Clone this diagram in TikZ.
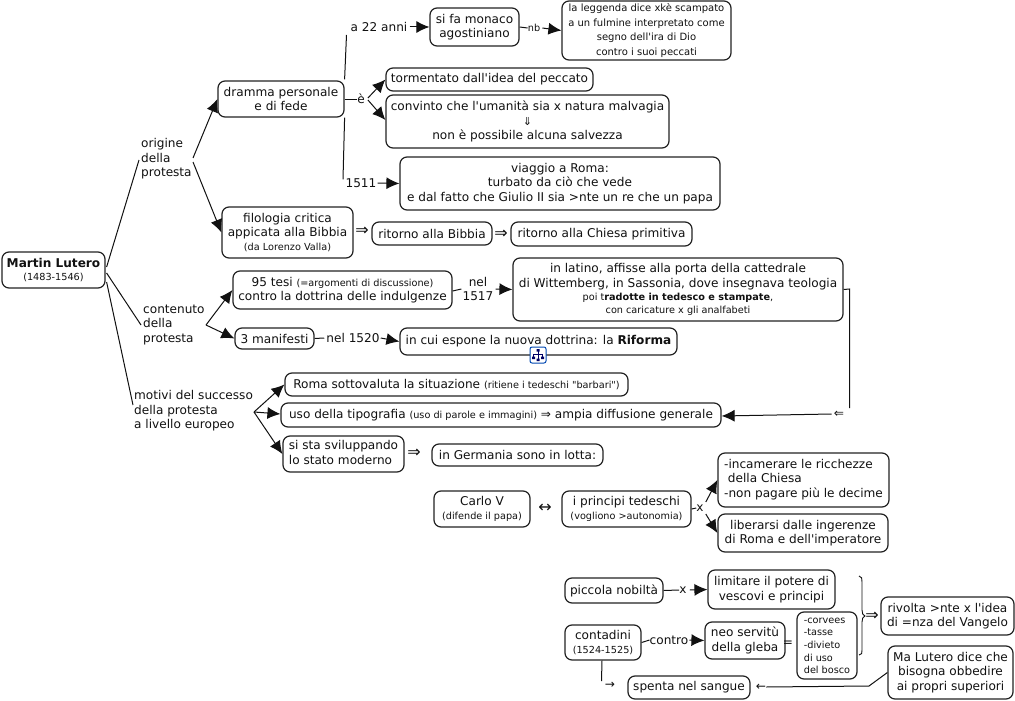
\documentclass[tikz,border=0pt]{standalone}
\usepackage{fontspec}
\newfontfamily\plainf{DejaVu Sans}
\usetikzlibrary{arrows.meta}
\definecolor{ink}{HTML}{111111}
\definecolor{edge}{HTML}{222222}
\newcommand{\mf}{\plainf\fontsize{12.1}{14.6}\selectfont}
\newcommand{\sm}{\plainf\fontsize{9.7}{14}\selectfont}
\newcommand{\ms}{\plainf\fontsize{10}{13.6}\selectfont}
\newcommand{\bigar}{\plainf\fontsize{16}{16}\selectfont}
\tikzset{
  x=1pt,y=-1pt,
  bx/.style={draw=edge,line width=1.2pt,rounded corners=7pt,fill=white,align=center,inner sep=0pt,text=ink,font=\mf},
  lbl/.style={inner sep=0pt,align=center,text=ink,font=\mf},
  lleft/.style={inner sep=0pt,align=left,text=ink,font=\mf},
  lnk/.style={draw=ink,line width=1pt},
  arr/.style={draw=ink,line width=1pt,-{Latex[length=13pt,width=12pt]}},
}
% name, x1, y1, x2, y2, text
\newcommand{\bxx}[6]{%
  \pgfmathsetmacro{\cxx}{(#2+#4)/2}\pgfmathsetmacro{\cyy}{(#3+#5)/2}%
  \pgfmathsetmacro{\wxx}{#4-#2}\pgfmathsetmacro{\hyy}{#5-#3}%
  \node[bx,minimum width=\wxx pt,minimum height=\hyy pt] (#1) at (\cxx,\cyy) {#6};}
\begin{document}
\begin{tikzpicture}
\useasboundingbox[fill=white] (0,0) rectangle (1015,701);
% boxes
\bxx{root}{2}{252}{105}{288}{\textbf{Martin Lutero}\\[-1pt]{\sm (1483-1546)}}
\bxx{dramma}{218}{81}{344}{117}{dramma personale\\e di fede}
\bxx{monaco}{430}{8}{519}{46}{si fa monaco\\agostiniano}
\bxx{leggenda}{562}{1}{731}{60}{\ms la leggenda dice xkè scampato\\\ms a un fulmine interpretato come\\\ms segno dell'ira di Dio\\\ms contro i suoi peccati}
\bxx{torm}{386}{68}{593}{91}{tormentato dall'idea del peccato}
\bxx{convinto}{386}{95}{669}{148}{convinto che l'umanità sia x natura malvagia\\{\plainf\fontsize{11}{14.6}\selectfont ⇓}\\non è possibile alcuna salvezza}
\bxx{viaggio}{400}{157}{720}{210}{viaggio a Roma:\\turbato da ciò che vede\\e dal fatto che Giulio II sia >nte un re che un papa}
\bxx{filologia}{222}{207}{353}{258}{filologia critica\\appicata alla Bibbia\\[-1pt]{\sm (da Lorenzo Valla)}}
\bxx{ritbib}{372}{222}{492}{245}{ritorno alla Bibbia}
\bxx{ritchi}{511}{222}{692}{246}{ritorno alla Chiesa primitiva}
\bxx{tesi}{233}{271}{452}{309}{95 tesi {\sm (=argomenti di discussione)}\\contro la dottrina delle indulgenze}
\bxx{latino}{513}{258}{843}{321}{in latino, affisse alla porta della cattedrale\\di Wittemberg, in Sassonia, dove insegnava teologia\\[-1pt]{\sm poi t\textbf{radotte in tedesco e stampate},}\\[-1.5pt]{\sm con caricature x gli analfabeti}}
\bxx{manif}{235}{328}{314}{349}{3 manifesti}
\bxx{espone}{400}{328}{677}{355}{in cui espone la nuova dottrina: la \textbf{Riforma}}
\bxx{roma}{285}{373}{628}{396}{Roma sottovaluta la situazione {\sm (ritiene i tedeschi "barbari")}}
\bxx{tipo}{281}{403}{721}{427}{uso della tipografia {\sm (uso di parole e immagini)} ⇒ ampia diffusione generale}
\bxx{stato}{283}{436}{404}{472}{\begin{tabular}{@{}l@{}}si sta sviluppando\\lo stato moderno\end{tabular}}
\bxx{germania}{432}{444}{603}{466}{in Germania sono in lotta:}
\bxx{carlo}{434}{491}{530}{527}{Carlo V\\[-1pt]{\sm (difende il papa)}}
\bxx{principi}{562}{491}{691}{527}{i principi tedeschi\\[-1pt]{\sm (vogliono >autonomia)}}
\bxx{incam}{718}{453}{889}{507}{\begin{tabular}{@{}l@{}}-incamerare le ricchezze\\\ della Chiesa\\-non pagare più le decime\end{tabular}}
\bxx{liberarsi}{718}{514}{888}{552}{liberarsi dalle ingerenze\\di Roma e dell'imperatore}
\bxx{nobil}{565}{578}{663}{603}{piccola nobiltà}
\bxx{limitare}{708}{570}{835}{609}{limitare il potere di\\vescovi e principi}
\bxx{contad}{565}{625}{641}{660}{contadini\\[-1pt]{\sm (1524-1525)}}
\bxx{neo}{705}{622}{785}{659}{neo servitù\\della gleba}
\bxx{corvees}{797}{612}{857}{679}{\begin{tabular}{@{}l@{}}\sm -corvees\\[-2pt]\sm -tasse\\[-2pt]\sm -divieto\\[-2pt]\sm di uso\\[-2pt]\sm del bosco\end{tabular}}
\bxx{rivolta}{881}{597}{1014}{635}{rivolta >nte x l'idea\\di =nza del Vangelo}
\bxx{spenta}{628}{676}{750}{699}{spenta nel sangue}
\bxx{malut}{888}{646}{1013}{699}{Ma Lutero dice che\\bisogna obbedire\\ai propri superiori}
% linking phrases
\node[lleft,anchor=west,minimum height=44pt] (origine) at (141,159) {origine\\della\\protesta};
\node[lleft,anchor=west,minimum height=44pt] (contenuto) at (143,325) {contenuto\\della\\protesta};
\node[lleft,anchor=west,minimum height=44pt] (motivi) at (134,411) {motivi del successo\\della protesta\\a livello europeo};
\node[lbl] (anni) at (379,27) {a 22 anni};
\node[lbl] (nb) at (534,28) {\sm nb};
\node[lbl] (e) at (361,99) {è};
\node[lbl] (y1511) at (361,183) {1511};
\node[lbl,font=\bigar] (impl1) at (362,231) {⇒};
\node[lbl,font=\bigar] (impl2) at (501,234) {⇒};
\node[lbl] (nel17) at (478,289) {nel\\1517};
\node[lbl] (nel20) at (353,338) {nel 1520};
\node[lbl] (back) at (839,414) {⇐};
\node[lbl,font=\bigar] (impl3) at (414,453) {⇒};
\node[lbl,font=\bigar] (lotta) at (545,508) {↔};
\node[lbl] (xp) at (700,508) {x};
\node[lbl] (xn) at (683,590) {x};
\node[lbl] (contro) at (669,640) {contro};
\node[lbl] (ug) at (788,644) {=};
\node[lbl,font=\bigar] (impl4) at (872,616) {⇒};
\node[lbl] (freccia) at (610,685) {→};
\node[lbl] (sin) at (761,687) {←};
% connectors (xshift/yshift act on the canvas: positive yshift is up)
\draw[lnk] ([yshift=3pt,xshift=1pt]root.east) -- ([xshift=-2pt,yshift=-1pt]origine.west);
\draw[lnk] ([yshift=-3pt,xshift=1pt]root.east) -- ([xshift=-2pt]contenuto.west);
\draw[lnk] ([yshift=-12pt,xshift=1pt]root.east) -- ([xshift=-1pt,yshift=6pt]motivi.west);
\coordinate (ooe) at (193,158);
\coordinate (ooe2) at (193,162);
\draw[arr] (ooe) -- (dramma.west);
\draw[arr] (ooe2) -- (filologia.west);
\draw[lnk] ([yshift=1pt]dramma.north east) -- ([xshift=-4pt,yshift=-8pt]anni.west);
\draw[arr] ([xshift=2pt]anni.east) -- (monaco.west);
\draw[lnk] (monaco.east) -- (nb.west);
\draw[arr] ([xshift=2pt]nb.east) -- (leggenda.west);
\draw[lnk] (dramma.east) -- (e.west);
\draw[arr] ([xshift=3pt,yshift=1pt]e.east) -- (torm.west);
\draw[arr] ([xshift=3pt,yshift=-1pt]e.east) -- ([yshift=1.5pt]convinto.west);
\draw[lnk] (dramma.south east) -- ([xshift=-18pt,yshift=-1pt]y1511.north);
\draw[arr] ([xshift=1pt]y1511.east) -- (viaggio.west);
\coordinate (cont) at (206,325);
\draw[arr] (cont) -- (tesi.west);
\draw[arr] (cont) -- (manif.west);
\draw[lnk] ([yshift=-1pt]tesi.east) -- ([xshift=-1pt]nel17.west);
\draw[arr] ([xshift=2pt]nel17.east) -- (latino.west);
\draw[lnk] (manif.east) -- ([xshift=-2pt]nel20.west);
\draw[arr] ([xshift=1pt]nel20.east) -- (espone.west);
\coordinate (elbow1) at (849.5,289);
\coordinate (elbow1b) at (849.5,408);
\draw[lnk] (latino.east) -- (elbow1) -- (elbow1b);
\draw[arr] ([xshift=-2pt]back.west) -- ([yshift=-1pt]tipo.east);
\coordinate (mot) at (254,412);
\draw[arr] (mot) -- (roma.west);
\draw[arr] (mot) -- ([yshift=1pt]tipo.west);
\draw[arr] (mot) -- (stato.west);
\draw[lnk] (principi.east) -- (xp.west);
\draw[arr] ([xshift=2pt,yshift=6pt]xp.east) -- (incam.west);
\draw[arr] ([xshift=2pt,yshift=-6pt]xp.east) -- (liberarsi.west);
\draw[lnk] (nobil.east) -- (xn.west);
\draw[arr] ([xshift=3pt]xn.east) -- (limitare.west);
\draw[lnk] (contad.east) -- (contro.west);
\draw[arr] ([xshift=1pt]contro.east) -- (neo.west);
\coordinate (cdown) at (601.5,681);
\draw[lnk] ([xshift=-1pt]contad.south) -- (cdown);
\coordinate (elbow2) at (869,686);
\draw[lnk] (malut.west) -- (elbow2) -- (sin.east);
% brace
\draw[draw=ink,line width=0.9pt] (859,576) .. controls (862,576) and (862,579) .. (862,582) -- (862,610) .. controls (862,613) and (863,616) .. (865,616) .. controls (863,616) and (862,619) .. (862,622) -- (862,650) .. controls (862,653) and (862,655) .. (859,655);
% map icon
\draw[draw=blue!60!cyan!70!black,line width=1pt,fill=white,rounded corners=2pt] (530,347) rectangle (546,363);
\draw[draw=blue!40!black,line width=0.7pt] (538,350) -- (538,354) (533.5,357) -- (533.5,354) -- (542.5,354) -- (542.5,357) (538,354) -- (538,359);
\fill[blue!40!black] (536.5,349) rectangle (539.5,351.5) (532,356.5) rectangle (535,359) (541,356.5) rectangle (544,359) (536.5,358.5) rectangle (539.5,361);
\end{tikzpicture}
\end{document}
